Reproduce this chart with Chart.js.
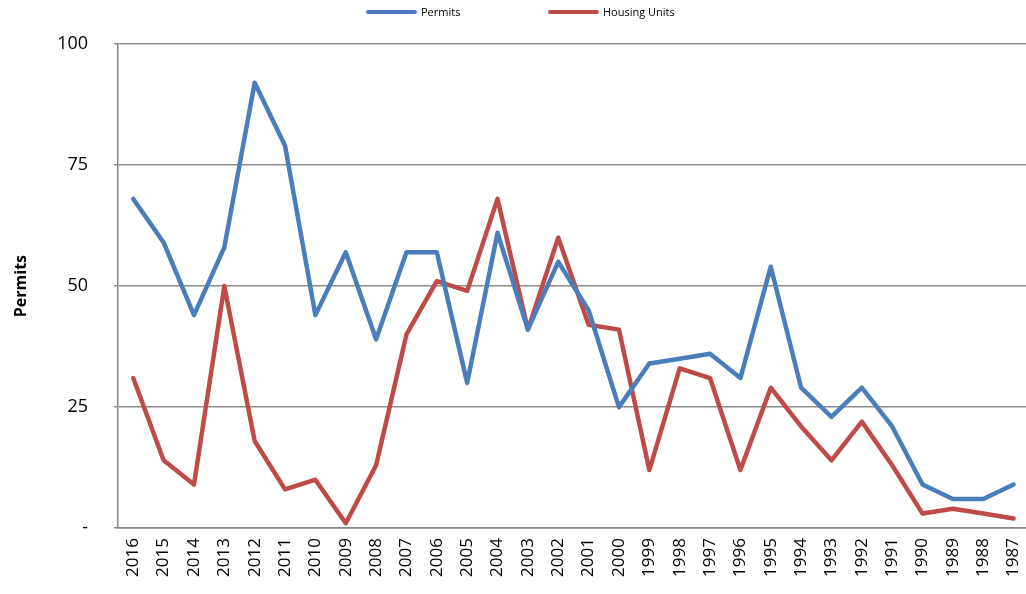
<!DOCTYPE html>
<html>
<head>
<meta charset="utf-8">
<script src="https://cdn.jsdelivr.net/npm/chart.js@4.4.1/dist/chart.umd.min.js"></script>
<style>
html,body{margin:0;padding:0;background:#fff;overflow:hidden;}
#wrap{width:1044px;height:594px;position:relative;}
</style>
</head>
<body>
<div id="wrap"><canvas id="c"></canvas></div>
<script>
const years = ['2016','2015','2014','2013','2012','2011','2010','2009','2008','2007','2006','2005','2004','2003','2002','2001','2000','1999','1998','1997','1996','1995','1994','1993','1992','1991','1990','1989','1988','1987'];
const permits = [68,59,44,58,92,79,44,57,39,57,57,30,61,41,55,45,25,34,35,36,31,54,29,23,29,21,9,6,6,9];
const housingUnits = [31,14,9,50,18,8,10,1,13,40,51,49,68,41,60,42,41,12,33,31,12,29,21,14,22,13,3,4,3,2];
const yTickLabels = {0:'-',25:'25',50:'50',75:'75',100:'100'};
const FONT = '"Open Sans", "Liberation Sans", sans-serif';

const topLegend = {
  id: 'topLegend',
  afterDraw(chart) {
    const ctx = chart.ctx;
    const starts = [368, 550];
    ctx.save();
    ctx.font = '11px ' + FONT;
    ctx.textBaseline = 'middle';
    chart.data.datasets.forEach((ds, i) => {
      const x = starts[i], y = 12;
      ctx.strokeStyle = ds.borderColor;
      ctx.lineWidth = 4;
      ctx.lineCap = 'round';
      ctx.beginPath(); ctx.moveTo(x, y); ctx.lineTo(x + 47, y); ctx.stroke();
      ctx.fillStyle = '#000';
      ctx.fillText(ds.label, x + 53, y + 1);
    });
    ctx.restore();
  }
};

new Chart(document.getElementById('c'), {
  type: 'line',
  data: {
    labels: years,
    datasets: [
      {label:'Permits', data: permits, borderColor:'#4a7ebb', backgroundColor:'#4a7ebb', borderWidth:4.5, pointRadius:0, tension:0, borderCapStyle:'round', borderJoinStyle:'round'},
      {label:'Housing Units', data: housingUnits, borderColor:'#be4b48', backgroundColor:'#be4b48', borderWidth:4.5, pointRadius:0, tension:0, borderCapStyle:'round', borderJoinStyle:'round'}
    ]
  },
  plugins: [topLegend],
  options: {
    responsive: true,
    maintainAspectRatio: false,
    animation: false,
    layout: {padding: {top: 44, left: 12, right: 0, bottom: 7}},
    plugins: {
      legend: {display:false},
      tooltip: {enabled:false}
    },
    scales: {
      x: {
        offset: true,
        grid: {display:false, drawTicks:false},
        border: {color:'#888', width:1.5},
        ticks: {color:'#000', maxRotation:90, minRotation:90, autoSkip:false, padding:10, font:{family:FONT, size:17}}
      },
      y: {
        min: 0, max: 100,
        grid: {color:'#8c8c8c', lineWidth:1.5, tickLength:4},
        border: {color:'#888', width:1.5},
        ticks: {stepSize:25, color:'#000', padding:26, font:{family:FONT, size:18},
          callback: v => yTickLabels[v]},
        title: {display:true, text:'Permits', color:'#000', padding:{top:0, bottom:0}, font:{family:FONT, size:16, weight:'bold'}}
      }
    }
  }
});
</script>
</body>
</html>
